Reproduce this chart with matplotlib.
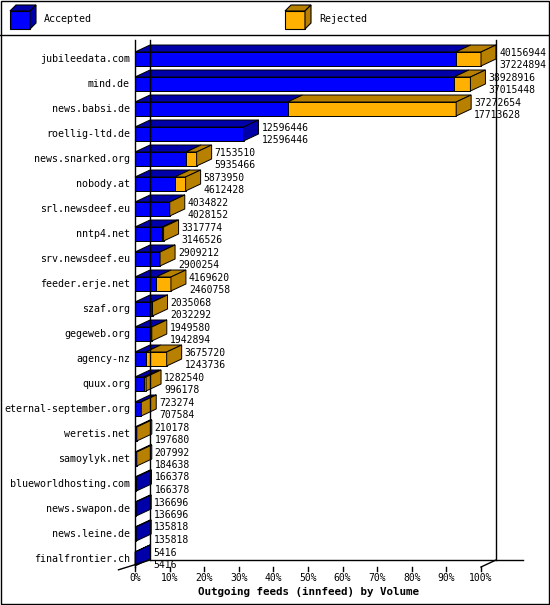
import matplotlib
matplotlib.use("Agg")
import matplotlib.pyplot as plt
from matplotlib.patches import Polygon, Rectangle

feeds = ["jubileedata.com","mind.de","news.babsi.de","roellig-ltd.de","news.snarked.org",
         "nobody.at","srl.newsdeef.eu","nntp4.net","srv.newsdeef.eu","feeder.erje.net",
         "szaf.org","gegeweb.org","agency-nz","quux.org","eternal-september.org",
         "weretis.net","samoylyk.net","blueworldhosting.com","news.swapon.de",
         "news.leine.de","finalfrontier.ch"]
offered = [40156944,38928916,37272654,12596446,7153510,5873950,4034822,3317774,2909212,
           4169620,2035068,1949580,3675720,1282540,723274,210178,207992,166378,136696,
           135818,5416]
accepted = [37224894,37015448,17713628,12596446,5935466,4612428,4028152,3146526,2900254,
            2460758,2032292,1942894,1243736,996178,707584,197680,184638,166378,136696,
            135818,5416]
ticks = list(range(0, 101, 10))
tick_labels = [f"{t}%" for t in ticks]

W, H = 550, 605
fig = plt.figure(figsize=(W/100, H/100), dpi=100)
font = "DejaVu Sans Mono"

bg = fig.add_axes([0, 0, 1, 1])
bg.set_xlim(0, W); bg.set_ylim(H, 0); bg.axis("off")
bg.add_patch(Rectangle((0.5, 0.5), W-1.5, H-1.5, fill=False, lw=1, ec="black"))
bg.plot([0, W], [35, 35], color="black", lw=1)

BLUE, BLUE_D = "#0000FF", "#0000A8"
ORG, ORG_D = "#FFB000", "#B88000"

def legend_box(x, y, c, cd, text):
    w, h, d = 20, 18, 6
    bg.add_patch(Polygon([(x, y+d), (x+w, y+d), (x+w, y+d+h), (x, y+d+h)], fc=c, ec="black", lw=0.8))
    bg.add_patch(Polygon([(x, y+d), (x+d, y), (x+w+d, y), (x+w, y+d)], fc=cd, ec="black", lw=0.8))
    bg.add_patch(Polygon([(x+w, y+d), (x+w+d, y), (x+w+d, y+h), (x+w, y+d+h)], fc=cd, ec="black", lw=0.8))
    bg.text(x+34, y+d+h/2-1, text, family=font, fontsize=7.2, va="center")

legend_box(10, 5, BLUE, BLUE_D, "Accepted")
legend_box(285, 5, ORG, ORG_D, "Rejected")

x0, x1 = 135, 481
ytop, ybot = 40, 567
n = len(feeds)
ax = fig.add_axes([x0/W, 1-ybot/H, (x1-x0)/W, (ybot-ytop)/H])
ax.axis("off")
ax.set_xlim(0, 100)
ypx0, step = 59, 25
ax.set_ylim((ybot-ypx0)/step, -(ypx0-ytop)/step)
pxx = 100/(x1-x0)
dx = 15*pxx
dy = 7/step
hh = 7/step

ylim_b, ylim_t = ax.get_ylim()
floor = ylim_b - dy
ax.plot([dx, dx], [ylim_t, floor], color="black", lw=1, clip_on=False)
ax.plot([100+dx, 100+dx], [ylim_t, floor], color="black", lw=1, clip_on=False)
ax.plot([0, 0], [ylim_t, ylim_b], color="black", lw=1, clip_on=False)
ax.plot([dx, 100+dx+27*pxx], [floor, floor], color="black", lw=1, clip_on=False)
ax.plot([-dx*1.1, dx], [ylim_b+dy*0.4, floor], color="black", lw=1, clip_on=False)
ax.plot([100, 100+dx], [ylim_b, floor], color="black", lw=1, clip_on=False)
for t, lab in zip(ticks, tick_labels):
    ax.plot([t, t], [ylim_b, ylim_b+4/step], color="black", lw=1, clip_on=False)
    ax.text(t, ylim_b+11/step, lab, family=font, fontsize=7, ha="center", va="center")
ax.text(50, ylim_b+25/step, "Outgoing feeds (innfeed) by Volume", family=font,
        fontsize=7.8, fontweight="bold", ha="center", va="center")

mx = max(offered)
for i, (name, o, a) in enumerate(zip(feeds, offered, accepted)):
    pa = a/mx*100
    po = o/mx*100
    segs = [(0, pa, BLUE, BLUE_D)]
    if po > pa:
        segs.append((pa, po, ORG, ORG_D))
    for s, e, c, cd in segs:
        ax.add_patch(Polygon([(s, i-hh), (e, i-hh), (e+dx, i-hh-dy), (s+dx, i-hh-dy)],
                             fc=cd, ec="black", lw=0.7, clip_on=False))
        ax.add_patch(Polygon([(s, i-hh), (e, i-hh), (e, i+hh), (s, i+hh)],
                             fc=c, ec="black", lw=0.7, clip_on=False))
    cd_end = segs[-1][3]
    ax.add_patch(Polygon([(po, i-hh), (po+dx, i-hh-dy), (po+dx, i+hh-dy), (po, i+hh)],
                         fc=cd_end, ec="black", lw=0.7, clip_on=False))
    ax.text(po+dx+3*pxx, i-0.26, str(o), family=font, fontsize=7, va="center")
    ax.text(po+dx+3*pxx, i+0.24, str(a), family=font, fontsize=7, va="center")
    ax.text(-5*pxx, i, name, family=font, fontsize=7.2, ha="right", va="center")

fig.savefig("out.png", dpi=100)
